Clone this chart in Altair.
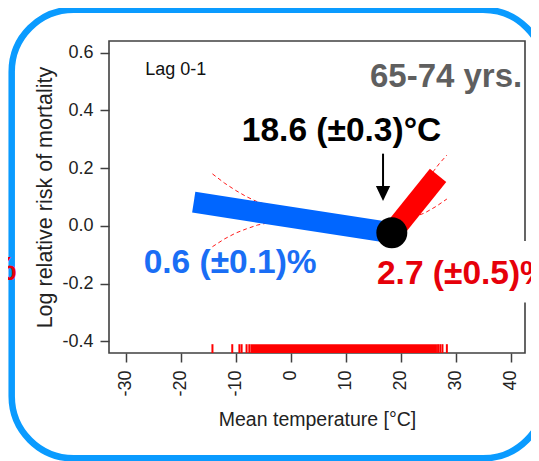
import altair as alt
import pandas as pd

# ---- axes ----
x_ticks = [-30, -20, -10, 0, 10, 20, 30, 40]
y_ticks = [-0.4, -0.2, 0.0, 0.2, 0.4, 0.6]
x_domain = [-33.0, 42.6]
y_domain = [-0.44, 0.64]

# ---- thick fitted segments (below / above threshold) ----
cold_x = [-17.6, 18.4]
cold_y = [0.082, -0.024]
heat_x = [18.4, 26.8]
heat_y = [-0.024, 0.175]
thr_x = [18.4]
thr_y = [-0.024]

# ---- confidence limits (dashed) ----
ci_cold_up_x = [-14.2, -12, -10, -8, -6, -3, 0, 5, 10, 15, 18.4]
ci_cold_up_y = [0.180, 0.148, 0.123, 0.101, 0.083, 0.066, 0.054, 0.035, 0.018, 0.002, -0.008]
ci_cold_lo_x = [-14.2, -12, -10, -8, -6, -3, 0, 5, 10, 15, 18.4]
ci_cold_lo_y = [-0.072, -0.045, -0.025, -0.010, 0.003, 0.015, 0.020, 0.020, 0.010, -0.010, -0.030]
ci_heat_up_x = [18.4, 22, 25, 27, 28.4]
ci_heat_up_y = [-0.010, 0.085, 0.165, 0.215, 0.245]
ci_heat_lo_x = [18.4, 21, 24.4, 26.5, 28.4]
ci_heat_lo_y = [-0.030, 0.020, 0.045, 0.068, 0.093]

# ---- rug of observed temperatures ----
rug_single = [-14.2, -10.6, -9.3, -8.9, -8.0, -7.5, 26.8, 27.2, 27.6, 28.4]
rug_band = [-7.3, 26.6]
rug_top = -0.4095

# ---- annotation ----
arrow_x = 16.8
arrow_top = 0.25
arrow_end = 0.125
arrow_head = 0.1125

FONT = "Liberation Sans"

xscale = alt.Scale(domain=x_domain, nice=False, zero=False)
yscale = alt.Scale(domain=y_domain, nice=False, zero=False)

xaxis = alt.Axis(
    values=x_ticks, labelExpr="(datum.value < 0 ? '-' : '') + format(abs(datum.value), 'd')",
    domain=False, grid=False, tickSize=9, tickWidth=1.5, tickColor="#404040",
    labelAngle=270, labelPadding=8, labelFont=FONT, labelFontSize=18, labelColor="#222222",
    labelOverlap=False, labelFlush=False,
    title="Mean temperature [°C]", titleFont=FONT, titleFontSize=19.5, titleFontWeight="normal",
    titleColor="#222222", titleX=208, titleY=72, titleAlign="center", titleBaseline="alphabetic",
)
yaxis = alt.Axis(
    values=y_ticks, labelExpr="(datum.value < 0 ? '-' : '') + format(abs(datum.value), '.1f')",
    domain=False, grid=False, tickSize=9, tickWidth=1.5, tickColor="#404040",
    labelPadding=7, labelFont=FONT, labelFontSize=18, labelColor="#222222",
    labelOverlap=False, labelFlush=False,
    title="Log relative risk of mortality", titleFont=FONT, titleFontSize=21.5,
    titleFontWeight="normal", titleColor="#222222", titleAngle=270,
    titleX=-57.3, titleY=156, titleAlign="center", titleBaseline="alphabetic",
)

X = alt.X("x:Q", scale=xscale, axis=xaxis)
Y = alt.Y("y:Q", scale=yscale, axis=yaxis)

one = pd.DataFrame({"a": [0]})

# rounded blue border (decoration)
border = alt.Chart(one).mark_rect(
    filled=False, color="#0a9bff", strokeWidth=6.5, cornerRadius=62
).encode(x=alt.value(-97.3), x2=alt.value(436), y=alt.value(-31.3), y2=alt.value(417.3))

# plot frame
frame = alt.Chart(one).mark_rect(filled=False, color="#404040", strokeWidth=1.6).encode(
    x=alt.datum(x_domain[0]), x2=alt.datum(x_domain[1]),
    y=alt.datum(y_domain[0]), y2=alt.datum(y_domain[1]),
)

# CI lines
ci_rows = []
for name, xs, ys in [("cu", ci_cold_up_x, ci_cold_up_y), ("cl", ci_cold_lo_x, ci_cold_lo_y),
                     ("hu", ci_heat_up_x, ci_heat_up_y), ("hl", ci_heat_lo_x, ci_heat_lo_y)]:
    for i, (a, b) in enumerate(zip(xs, ys)):
        ci_rows.append({"s": name, "i": i, "x": a, "y": b})
ci = alt.Chart(pd.DataFrame(ci_rows)).mark_line(
    color="#ff1a1a", strokeWidth=1, strokeDash=[4, 3]
).encode(x=X, y=Y, detail="s:N", order="i:Q")

# rug
rug1 = alt.Chart(pd.DataFrame({"x": rug_single})).mark_rule(color="#ff0000", strokeWidth=2).encode(
    x=X, y=alt.datum(rug_top), y2=alt.datum(y_domain[0])
)
rug2 = alt.Chart(pd.DataFrame({"x": [rug_band[0]], "x2": [rug_band[1]]})).mark_rect(color="#ff0000").encode(
    x=X, x2="x2:Q", y=alt.datum(rug_top), y2=alt.datum(y_domain[0])
)

# white text box behind the red label
tbox = alt.Chart(pd.DataFrame({"x": [16.3], "x2": [46.0], "y": [-0.052], "y2": [-0.265]})).mark_rect(
    color="white"
).encode(x=X, x2="x2:Q", y=Y, y2="y2:Q")

cold = alt.Chart(pd.DataFrame({"x": cold_x, "y": cold_y})).mark_line(
    color="#0066ff", strokeWidth=21, strokeCap="butt"
).encode(x=X, y=Y)
heat = alt.Chart(pd.DataFrame({"x": heat_x, "y": heat_y})).mark_line(
    color="#ff0000", strokeWidth=21, strokeCap="butt"
).encode(x=X, y=Y)
thr = alt.Chart(pd.DataFrame({"x": thr_x, "y": thr_y})).mark_point(
    shape="circle", filled=True, size=960, color="black", opacity=1
).encode(x=X, y=Y)

arrow_line = alt.Chart(pd.DataFrame({"x": [arrow_x], "y": [arrow_top], "y2": [arrow_end]})).mark_rule(
    color="black", strokeWidth=2
).encode(x=X, y=Y, y2="y2:Q")
arrow_tip = alt.Chart(pd.DataFrame({"x": [arrow_x], "y": [arrow_head]})).mark_point(
    shape="M-0.95,-1L0.95,-1L0,1Z", filled=True, size=225, color="black", opacity=1
).encode(x=X, y=Y)


def label(txt, x, y, color, size, weight, align):
    return alt.Chart(pd.DataFrame({"x": [x], "y": [y], "t": [txt]})).mark_text(
        font=FONT, fontSize=size, fontWeight=weight, color=color, align=align, baseline="alphabetic"
    ).encode(x=X, y=Y, text="t:N")


texts = [
    label("Lag 0-1", -26.4, 0.522, "#111111", 18, "normal", "left"),
    label("65-74 yrs.", 42.1, 0.481, "#5f5f5f", 33, "bold", "right"),
    label("18.6 (±0.3)°C", 9.26, 0.294, "#000000", 33.5, "bold", "center"),
    label("0.6 (±0.1)%", -26.7, -0.162, "#1a6ef5", 33.5, "bold", "left"),
    label("2.7 (±0.5)%", 15.7, -0.202, "#e6000a", 33.5, "bold", "left"),
    label("%", -49.8, -0.187, "#e6000a", 33.5, "bold", "right"),
]

chart = alt.layer(
    border, frame, tbox, ci, rug1, rug2, cold, heat, thr, arrow_line, arrow_tip, *texts
).properties(
    width=416, height=312,
    padding={"left": 101, "top": 33, "right": 6, "bottom": 108},
    autosize=alt.AutoSizeParams(type="none"),
    background="white",
).configure_view(stroke=None)

chart.save("out.html", embed_options={"renderer": "svg", "actions": False})
